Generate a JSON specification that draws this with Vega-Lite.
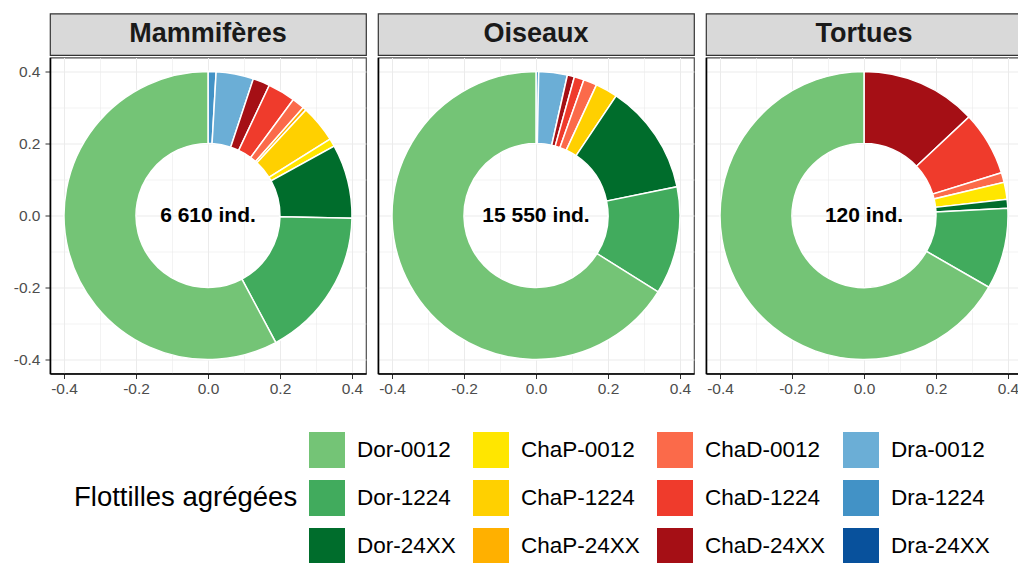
{
  "$schema": "https://vega.github.io/schema/vega-lite/v6.json",
  "background": "white",
  "padding": {"left": 12, "top": 12.5, "right": 0, "bottom": 0},
  "datasets": {
    "flottilles": [
      {"groupe": "Mammifères", "flottille": "Dra-1224", "ord": 2, "pct": 0.9, "label": "6 610 ind."},
      {"groupe": "Mammifères", "flottille": "Dra-0012", "ord": 3, "pct": 4.2, "label": "6 610 ind."},
      {"groupe": "Mammifères", "flottille": "ChaD-24XX", "ord": 4, "pct": 1.9, "label": "6 610 ind."},
      {"groupe": "Mammifères", "flottille": "ChaD-1224", "ord": 5, "pct": 3.1, "label": "6 610 ind."},
      {"groupe": "Mammifères", "flottille": "ChaD-0012", "ord": 6, "pct": 1.4, "label": "6 610 ind."},
      {"groupe": "Mammifères", "flottille": "ChaP-24XX", "ord": 7, "pct": 0.4, "label": "6 610 ind."},
      {"groupe": "Mammifères", "flottille": "ChaP-1224", "ord": 8, "pct": 4.2, "label": "6 610 ind."},
      {"groupe": "Mammifères", "flottille": "ChaP-0012", "ord": 9, "pct": 0.9, "label": "6 610 ind."},
      {"groupe": "Mammifères", "flottille": "Dor-24XX", "ord": 10, "pct": 8.3, "label": "6 610 ind."},
      {"groupe": "Mammifères", "flottille": "Dor-1224", "ord": 11, "pct": 16.9, "label": "6 610 ind."},
      {"groupe": "Mammifères", "flottille": "Dor-0012", "ord": 12, "pct": 57.8, "label": "6 610 ind."},
      {"groupe": "Oiseaux", "flottille": "Dra-1224", "ord": 2, "pct": 0.3, "label": "15 550 ind."},
      {"groupe": "Oiseaux", "flottille": "Dra-0012", "ord": 3, "pct": 3.2, "label": "15 550 ind."},
      {"groupe": "Oiseaux", "flottille": "ChaD-24XX", "ord": 4, "pct": 0.8, "label": "15 550 ind."},
      {"groupe": "Oiseaux", "flottille": "ChaD-1224", "ord": 5, "pct": 1.1, "label": "15 550 ind."},
      {"groupe": "Oiseaux", "flottille": "ChaD-0012", "ord": 6, "pct": 1.5, "label": "15 550 ind."},
      {"groupe": "Oiseaux", "flottille": "ChaP-1224", "ord": 8, "pct": 2.5, "label": "15 550 ind."},
      {"groupe": "Oiseaux", "flottille": "Dor-24XX", "ord": 10, "pct": 12.4, "label": "15 550 ind."},
      {"groupe": "Oiseaux", "flottille": "Dor-1224", "ord": 11, "pct": 12.1, "label": "15 550 ind."},
      {"groupe": "Oiseaux", "flottille": "Dor-0012", "ord": 12, "pct": 66.1, "label": "15 550 ind."},
      {"groupe": "Tortues", "flottille": "ChaD-24XX", "ord": 4, "pct": 13.0, "label": "120 ind."},
      {"groupe": "Tortues", "flottille": "ChaD-1224", "ord": 5, "pct": 7.2, "label": "120 ind."},
      {"groupe": "Tortues", "flottille": "ChaD-0012", "ord": 6, "pct": 1.1, "label": "120 ind."},
      {"groupe": "Tortues", "flottille": "ChaP-0012", "ord": 9, "pct": 1.9, "label": "120 ind."},
      {"groupe": "Tortues", "flottille": "Dor-24XX", "ord": 10, "pct": 1.0, "label": "120 ind."},
      {"groupe": "Tortues", "flottille": "Dor-1224", "ord": 11, "pct": 9.1, "label": "120 ind."},
      {"groupe": "Tortues", "flottille": "Dor-0012", "ord": 12, "pct": 66.7, "label": "120 ind."}
    ],
    "strips": [
      {"groupe": "Mammifères"},
      {"groupe": "Oiseaux"},
      {"groupe": "Tortues"}
    ]
  },
  "data": {"name": "flottilles"},
  "spacing": 10,
  "hconcat": [
    {
      "spacing": 0,
      "vconcat": [
        {
          "data": {"name": "strips"},
          "transform": [{"filter": "datum.groupe == 'Mammifères'"}],
          "width": 316, "height": 41.5,
          "view": {"fill": "#d9d9d9", "stroke": "#333333", "strokeWidth": 1.2},
          "mark": {"type": "text", "fontSize": 27, "fontWeight": "bold", "color": "#1a1a1a", "align": "center", "baseline": "middle"},
          "encoding": {"text": {"field": "groupe"}}
        },
        {
          "width": 316, "height": 316,
          "view": {"stroke": "#4d4d4d", "strokeWidth": 1.2},
          "transform": [{"filter": "datum.groupe == 'Mammifères'"}],
          "layer": [
            {
              "mark": {"type": "arc", "outerRadius": 144, "innerRadius": 72, "stroke": "white", "strokeWidth": 1.5},
              "encoding": {
                "theta": {"field": "pct", "type": "quantitative", "stack": true, "scale": {"domain": [0, 100]}},
                "color": {
                  "field": "flottille", "type": "nominal",
                  "scale": {
                    "domain": ["Dor-0012", "ChaP-0012", "ChaD-0012", "Dra-0012", "Dor-1224", "ChaP-1224", "ChaD-1224", "Dra-1224", "Dor-24XX", "ChaP-24XX", "ChaD-24XX", "Dra-24XX"],
                    "range": ["#74c476", "#ffe600", "#fb6a4a", "#6baed6", "#41ab5d", "#ffd000", "#ef3b2c", "#4292c6", "#006d2c", "#ffb000", "#a50f15", "#08519c"]
                  },
                  "legend": {"title": "Flottilles agrégées"}
                },
                "order": {"field": "ord", "type": "quantitative"}
              }
            },
            {
              "transform": [{"filter": "datum.flottille == 'Dor-0012'"}],
              "mark": {"type": "text", "fontSize": 21, "fontWeight": "bold", "color": "black", "align": "center", "baseline": "middle"},
              "encoding": {
                "x": {"datum": 0, "type": "quantitative", "scale": {"domain": [-0.439, 0.439], "nice": false, "zero": false},
                  "axis": {"title": null, "values": [-0.4, -0.3, -0.2, -0.1, 0, 0.1, 0.2, 0.3, 0.4],
                    "labelExpr": "abs(round(datum.value*10)) % 2 == 0 ? (datum.value < -0.001 ? '-' + format(-datum.value, '.1f') : format(abs(datum.value), '.1f')) : ''",
                    "gridWidth": {"condition": {"test": "abs(round(datum.value*10)) % 2 == 0", "value": 1}, "value": 0.6},
                    "tickOpacity": {"condition": {"test": "abs(round(datum.value*10)) % 2 == 0", "value": 1}, "value": 0},
                    "labelPadding": 3}},
                "y": {"datum": 0, "type": "quantitative", "scale": {"domain": [-0.439, 0.439], "nice": false, "zero": false},
                  "axis": {"title": null, "values": [-0.4, -0.3, -0.2, -0.1, 0, 0.1, 0.2, 0.3, 0.4],
                    "labelExpr": "abs(round(datum.value*10)) % 2 == 0 ? (datum.value < -0.001 ? '-' + format(-datum.value, '.1f') : format(abs(datum.value), '.1f')) : ''",
                    "gridWidth": {"condition": {"test": "abs(round(datum.value*10)) % 2 == 0", "value": 1}, "value": 0.6},
                    "tickOpacity": {"condition": {"test": "abs(round(datum.value*10)) % 2 == 0", "value": 1}, "value": 0},
                    "labelPadding": 5}},
                "text": {"field": "label"}
              }
            }
          ]
        }
      ]
    },
    {
      "spacing": 0,
      "vconcat": [
        {
          "data": {"name": "strips"},
          "transform": [{"filter": "datum.groupe == 'Oiseaux'"}],
          "width": 316, "height": 41.5,
          "view": {"fill": "#d9d9d9", "stroke": "#333333", "strokeWidth": 1.2},
          "mark": {"type": "text", "fontSize": 27, "fontWeight": "bold", "color": "#1a1a1a", "align": "center", "baseline": "middle"},
          "encoding": {"text": {"field": "groupe"}}
        },
        {
          "width": 316, "height": 316,
          "view": {"stroke": "#4d4d4d", "strokeWidth": 1.2},
          "transform": [{"filter": "datum.groupe == 'Oiseaux'"}],
          "layer": [
            {
              "mark": {"type": "arc", "outerRadius": 144, "innerRadius": 72, "stroke": "white", "strokeWidth": 1.5},
              "encoding": {
                "theta": {"field": "pct", "type": "quantitative", "stack": true, "scale": {"domain": [0, 100]}},
                "color": {"field": "flottille", "type": "nominal", "legend": {"title": "Flottilles agrégées"}},
                "order": {"field": "ord", "type": "quantitative"}
              }
            },
            {
              "transform": [{"filter": "datum.flottille == 'Dor-0012'"}],
              "mark": {"type": "text", "fontSize": 21, "fontWeight": "bold", "color": "black", "align": "center", "baseline": "middle"},
              "encoding": {
                "x": {"datum": 0, "type": "quantitative", "scale": {"domain": [-0.439, 0.439], "nice": false, "zero": false},
                  "axis": {"title": null, "values": [-0.4, -0.3, -0.2, -0.1, 0, 0.1, 0.2, 0.3, 0.4],
                    "labelExpr": "abs(round(datum.value*10)) % 2 == 0 ? (datum.value < -0.001 ? '-' + format(-datum.value, '.1f') : format(abs(datum.value), '.1f')) : ''",
                    "gridWidth": {"condition": {"test": "abs(round(datum.value*10)) % 2 == 0", "value": 1}, "value": 0.6},
                    "tickOpacity": {"condition": {"test": "abs(round(datum.value*10)) % 2 == 0", "value": 1}, "value": 0},
                    "labelPadding": 3}},
                "y": {"datum": 0, "type": "quantitative", "scale": {"domain": [-0.439, 0.439], "nice": false, "zero": false},
                  "axis": {"title": null, "values": [-0.4, -0.3, -0.2, -0.1, 0, 0.1, 0.2, 0.3, 0.4],
                    "labels": false, "ticks": false,
                    "gridWidth": {"condition": {"test": "abs(round(datum.value*10)) % 2 == 0", "value": 1}, "value": 0.6}}},
                "text": {"field": "label"}
              }
            }
          ]
        }
      ]
    },
    {
      "spacing": 0,
      "vconcat": [
        {
          "data": {"name": "strips"},
          "transform": [{"filter": "datum.groupe == 'Tortues'"}],
          "width": 316, "height": 41.5,
          "view": {"fill": "#d9d9d9", "stroke": "#333333", "strokeWidth": 1.2},
          "mark": {"type": "text", "fontSize": 27, "fontWeight": "bold", "color": "#1a1a1a", "align": "center", "baseline": "middle"},
          "encoding": {"text": {"field": "groupe"}}
        },
        {
          "width": 316, "height": 316,
          "view": {"stroke": "#4d4d4d", "strokeWidth": 1.2},
          "transform": [{"filter": "datum.groupe == 'Tortues'"}],
          "layer": [
            {
              "mark": {"type": "arc", "outerRadius": 144, "innerRadius": 72, "stroke": "white", "strokeWidth": 1.5},
              "encoding": {
                "theta": {"field": "pct", "type": "quantitative", "stack": true, "scale": {"domain": [0, 100]}},
                "color": {"field": "flottille", "type": "nominal", "legend": {"title": "Flottilles agrégées"}},
                "order": {"field": "ord", "type": "quantitative"}
              }
            },
            {
              "transform": [{"filter": "datum.flottille == 'Dor-0012'"}],
              "mark": {"type": "text", "fontSize": 21, "fontWeight": "bold", "color": "black", "align": "center", "baseline": "middle"},
              "encoding": {
                "x": {"datum": 0, "type": "quantitative", "scale": {"domain": [-0.439, 0.439], "nice": false, "zero": false},
                  "axis": {"title": null, "values": [-0.4, -0.3, -0.2, -0.1, 0, 0.1, 0.2, 0.3, 0.4],
                    "labelExpr": "abs(round(datum.value*10)) % 2 == 0 ? (datum.value < -0.001 ? '-' + format(-datum.value, '.1f') : format(abs(datum.value), '.1f')) : ''",
                    "gridWidth": {"condition": {"test": "abs(round(datum.value*10)) % 2 == 0", "value": 1}, "value": 0.6},
                    "tickOpacity": {"condition": {"test": "abs(round(datum.value*10)) % 2 == 0", "value": 1}, "value": 0},
                    "labelPadding": 3}},
                "y": {"datum": 0, "type": "quantitative", "scale": {"domain": [-0.439, 0.439], "nice": false, "zero": false},
                  "axis": {"title": null, "values": [-0.4, -0.3, -0.2, -0.1, 0, 0.1, 0.2, 0.3, 0.4],
                    "labels": false, "ticks": false,
                    "gridWidth": {"condition": {"test": "abs(round(datum.value*10)) % 2 == 0", "value": 1}, "value": 0.6}}},
                "text": {"field": "label"}
              }
            }
          ]
        }
      ]
    }
  ],
  "config": {
    "font": "Liberation Sans",
    "view": {"stroke": null},
    "axis": {
      "labelFont": "Liberation Sans", "labelFontSize": 15.5, "labelColor": "#4d4d4d",
      "tickColor": "#333333", "tickSize": 5, "tickWidth": 1,
      "domainColor": "#000000", "domainWidth": 1.6,
      "gridColor": "#ebebeb", "grid": true
    },
    "legend": {
      "orient": "none", "legendX": 24, "legendY": 418.5,
      "direction": "horizontal", "columns": 4, "gridAlign": "each",
      "titleOrient": "left", "titleAnchor": "middle", "titleBaseline": "middle",
      "titleFont": "Liberation Sans", "titleFontSize": 27.5, "titleFontWeight": "normal", "titleColor": "#000000", "titlePadding": 11, "titleLimit": 400,
      "labelFont": "Liberation Sans", "labelFontSize": 22.5, "labelColor": "#000000", "labelOffset": 12, "labelLimit": 300,
      "symbolType": "square", "symbolSize": 1296, "symbolStrokeWidth": 0, "symbolOpacity": 1,
      "columnPadding": 17, "rowPadding": 12, "padding": 0
    }
  }
}
